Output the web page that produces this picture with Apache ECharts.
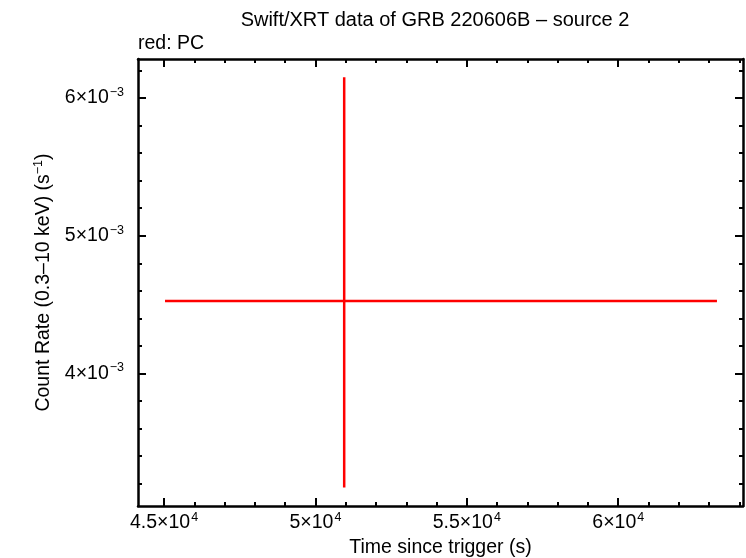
<!DOCTYPE html>
<html>
<head>
<meta charset="utf-8">
<script src="https://cdn.jsdelivr.net/npm/echarts@6/dist/echarts.min.js"></script>
<style>
html,body{margin:0;padding:0;background:#fff;}
#chart{width:746px;height:558px;}
</style>
</head>
<body>
<div id="chart"></div>
<script>
// ---- data ----
const times      = [50950];      // bin centre, s
const timeStart  = [45033];      // bin start, s
const timeEnd    = [63260];      // bin end, s
const rates      = [4.527e-3];   // count rate, s^-1
const rateLow    = [3.172e-3];   // lower error bound
const rateHigh   = [6.150e-3];   // upper error bound

// ---- axis ticks ----
const xMajorTicks = [45000, 50000, 55000, 60000];
const xMinorTicks = [46000, 47000, 48000, 49000, 51000, 52000, 53000, 54000,
                     56000, 57000, 58000, 59000, 61000, 62000, 63000, 64000];
const yMajorTicks = [0.004, 0.005, 0.006];
const yMinorTicks = [0.0032, 0.0034, 0.0036, 0.0038, 0.0042, 0.0044, 0.0046, 0.0048,
                     0.0052, 0.0054, 0.0056, 0.0058, 0.0062];

const xMin = 44141, xMax = 64120;
const yMin = 0.003038, yMax = 0.006283;

const FONT = 'Liberation Sans';
const FS = 19.5;
const SUP = 12.5;
const rich = {
  m: {fontSize: FS, fontFamily: FONT, color: '#000'},
  s: {fontSize: SUP, fontFamily: FONT, color: '#000', padding: [0, 0, 11, 1]}
};

function xFmt(v) {
  const m = Math.round(v / 1000) / 10;
  return '{m|' + m + '×10}{s|4}';
}
function yFmt(v) {
  const m = Math.round(v * 1000);
  return '{m|' + m + '×10}{s|−3}';
}

const lineStyle = {color: '#000', width: 2.5};

function xAxisDef(pos, ticks, len, showLine, showLabel, extra) {
  return Object.assign({
    type: 'value', min: xMin, max: xMax, position: pos,
    axisLine: {show: showLine, onZero: false, lineStyle: lineStyle},
    axisTick: {show: true, inside: true, length: len, customValues: ticks,
               lineStyle: {color: '#000', width: 2}},
    axisLabel: showLabel ? {show: true, customValues: ticks, formatter: xFmt, rich: rich, margin: 5}
                         : {show: false},
    splitLine: {show: false}
  }, extra || {});
}
function yAxisDef(pos, ticks, len, showLine, showLabel, extra) {
  return Object.assign({
    type: 'value', min: yMin, max: yMax, position: pos,
    axisLine: {show: showLine, onZero: false, lineStyle: lineStyle},
    axisTick: {show: true, inside: true, length: len, customValues: ticks,
               lineStyle: {color: '#000', width: 2}},
    axisLabel: showLabel ? {show: true, customValues: ticks, formatter: yFmt, rich: rich, margin: 14}
                         : {show: false},
    splitLine: {show: false}
  }, extra || {});
}

const chart = echarts.init(document.getElementById('chart'), null, {renderer: 'canvas'});

const pointData = times.map((t, i) => [t, rates[i], timeStart[i], timeEnd[i], rateLow[i], rateHigh[i]]);

chart.setOption({
  backgroundColor: '#fff',
  animation: false,
  title: [
    {text: 'Swift/XRT data of GRB 220606B – source 2', left: 435, top: 10, textAlign: 'center', padding: 0,
     textStyle: {fontFamily: FONT, fontSize: 20, fontWeight: 'normal', color: '#000'}},
    {text: 'red: PC', left: 138, top: 34, padding: 0,
     textStyle: {fontFamily: FONT, fontSize: FS, fontWeight: 'normal', color: '#000'}}
  ],
  grid: {left: 138, right: 3, top: 59, bottom: 52, containLabel: false, outerBoundsMode: 'none'},
  xAxis: [
    xAxisDef('bottom', xMajorTicks, 8, true, true, {
      name: 'Time since trigger (s)', nameLocation: 'middle', nameGap: 25,
      nameTextStyle: {fontFamily: FONT, fontSize: FS, color: '#000'}
    }),
    xAxisDef('bottom', xMinorTicks, 4, false, false),
    xAxisDef('top', xMajorTicks, 8, true, false),
    xAxisDef('top', xMinorTicks, 4, false, false)
  ],
  yAxis: [
    yAxisDef('left', yMajorTicks, 8, true, true, {
      name: '{n|Count Rate (0.3–10 keV) (s}{s|−1}{n|)}', nameLocation: 'middle', nameGap: 73,
      nameTextStyle: {rich: {
        n: {fontFamily: FONT, fontSize: FS, color: '#000'},
        s: {fontFamily: FONT, fontSize: SUP, color: '#000', padding: [0, 0, 11, 0]}
      }}
    }),
    yAxisDef('left', yMinorTicks, 4, false, false),
    yAxisDef('right', yMajorTicks, 8, true, false),
    yAxisDef('right', yMinorTicks, 4, false, false)
  ],
  series: [{
    type: 'custom',
    xAxisIndex: 0, yAxisIndex: 0,
    data: pointData,
    renderItem: function (params, api) {
      const c = api.coord([api.value(0), api.value(1)]);
      const l = api.coord([api.value(2), api.value(1)]);
      const r = api.coord([api.value(3), api.value(1)]);
      const lo = api.coord([api.value(0), api.value(4)]);
      const hi = api.coord([api.value(0), api.value(5)]);
      const st = {stroke: '#ff0000', lineWidth: 2.5};
      return {
        type: 'group',
        children: [
          {type: 'line', shape: {x1: l[0], y1: c[1], x2: r[0], y2: c[1]}, style: st},
          {type: 'line', shape: {x1: c[0], y1: lo[1], x2: c[0], y2: hi[1]}, style: st}
        ]
      };
    }
  }]
});
</script>
</body>
</html>
